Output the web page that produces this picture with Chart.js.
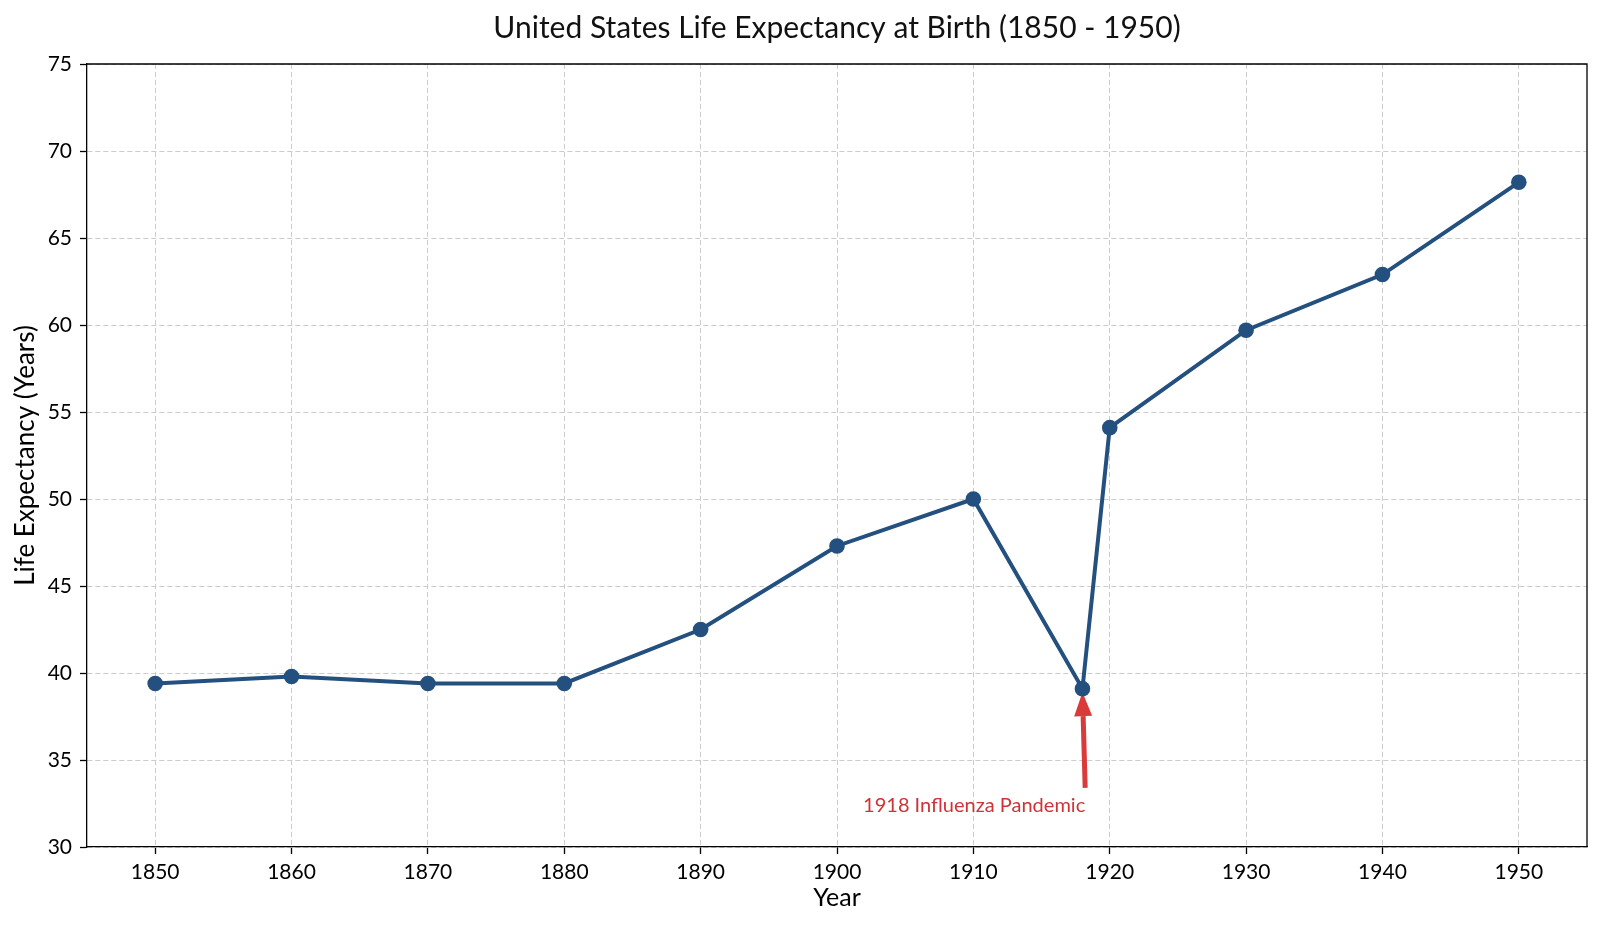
<!DOCTYPE html>
<html>
<head>
<meta charset="utf-8">
<title>United States Life Expectancy at Birth (1850 - 1950)</title>
<script src="https://cdn.jsdelivr.net/npm/chart.js@4.4.1/dist/chart.umd.min.js"></script>
<style>
  html, body { margin: 0; padding: 0; background: #ffffff; }
  #wrap { width: 1600px; height: 925px; }
</style>
</head>
<body>
<div id="wrap"><canvas id="lifeChart"></canvas></div>
<script>
// Data
const years = [1850, 1860, 1870, 1880, 1890, 1900, 1910, 1918, 1920, 1930, 1940, 1950];
const lifeExpectancy = [39.4, 39.8, 39.4, 39.4, 42.5, 47.3, 50.0, 39.1, 54.1, 59.7, 62.9, 68.2];
const xTicks = [1850, 1860, 1870, 1880, 1890, 1900, 1910, 1920, 1930, 1940, 1950];
const yTicks = [30, 35, 40, 45, 50, 55, 60, 65, 70, 75];

// Annotation (data units)
const noteText = "1918 Influenza Pandemic";
const noteTextPos = [1918.2, 32.4];
const noteTail = [1918.2, 33.4];
const noteHead = [1918.0, 38.9];

const FONT = "Lato";
const LINE_BLUE = "#24507f";
const NOTE_RED = "#d93b3b";

// kotak (spines) atas dan kanan
const framePlugin = {
    id: "frame",
    beforeDatasetsDraw(chart) {
        const { ctx, chartArea } = chart;
        ctx.save();
        ctx.strokeStyle = "#000";
        ctx.lineWidth = 1.3;
        ctx.beginPath();
        ctx.moveTo(chartArea.left, chartArea.top);
        ctx.lineTo(chartArea.right, chartArea.top);
        ctx.lineTo(chartArea.right, chartArea.bottom);
        ctx.stroke();
        ctx.restore();
    },
};

// panah + teks anotasi
const notePlugin = {
    id: "note",
    beforeDatasetsDraw(chart) {
        const { ctx } = chart;
        const x = chart.scales.x;
        const y = chart.scales.y;
        const tx = x.getPixelForValue(noteTail[0]);
        const ty = y.getPixelForValue(noteTail[1]);
        const hx = x.getPixelForValue(noteHead[0]);
        const hy = y.getPixelForValue(noteHead[1]);
        const ang = Math.atan2(hy - ty, hx - tx);
        const headLen = 24;
        const headHalf = 9;
        const bx = hx - Math.cos(ang) * headLen;
        const by = hy - Math.sin(ang) * headLen;

        ctx.save();
        ctx.strokeStyle = NOTE_RED;
        ctx.fillStyle = NOTE_RED;
        ctx.lineWidth = 5;
        ctx.beginPath();
        ctx.moveTo(tx, ty);
        ctx.lineTo(bx, by);
        ctx.stroke();
        ctx.beginPath();
        ctx.moveTo(hx, hy);
        ctx.lineTo(bx + Math.sin(ang) * headHalf, by - Math.cos(ang) * headHalf);
        ctx.lineTo(bx - Math.sin(ang) * headHalf, by + Math.cos(ang) * headHalf);
        ctx.closePath();
        ctx.fill();
        ctx.restore();
    },
    afterDatasetsDraw(chart) {
        const { ctx } = chart;
        const px = chart.scales.x.getPixelForValue(noteTextPos[0]);
        const py = chart.scales.y.getPixelForValue(noteTextPos[1]);
        ctx.save();
        ctx.fillStyle = "#cf3338";
        ctx.font = "20px " + FONT;
        ctx.textAlign = "right";
        ctx.textBaseline = "middle";
        ctx.fillText(noteText, px, py);
        ctx.restore();
    },
};

const lifeChart = new Chart(document.getElementById("lifeChart"), {
    type: "line",
    data: {
        datasets: [
            {
                label: "Life Expectancy",
                data: years.map((yr, i) => ({ x: yr, y: lifeExpectancy[i] })),
                borderColor: LINE_BLUE,
                backgroundColor: LINE_BLUE,
                borderWidth: 4,
                pointRadius: 7.8,
                pointBorderWidth: 0,
                pointBackgroundColor: LINE_BLUE,
                tension: 0,
            },
        ],
    },
    options: {
        responsive: true,
        maintainAspectRatio: false,
        animation: false,
        events: [],
        layout: { padding: { left: 0, right: 13, top: 0, bottom: 0 } },
        plugins: {
            legend: { display: false },
            tooltip: { enabled: false },
            title: {
                display: true,
                fullSize: false,
                text: "United States Life Expectancy at Birth (1850 - 1950)",
                color: "#111",
                font: { family: FONT, size: 30, weight: "normal" },
                padding: { top: 10, bottom: 18 },
            },
        },
        scales: {
            x: {
                type: "linear",
                min: 1845,
                max: 1955,
                afterBuildTicks: (scale) => { scale.ticks = xTicks.map((v) => ({ value: v })); },
                afterFit: (scale) => { scale.height = 78; },
                ticks: {
                    color: "#000",
                    font: { family: FONT, size: 21 },
                    padding: 6,
                    maxRotation: 0,
                    autoSkip: false,
                    callback: (v) => String(v),
                },
                grid: { color: "#cccccc", lineWidth: 1, tickColor: "#000", tickWidth: 1.3, tickLength: 7 },
                border: { color: "#000", width: 1.3, dash: [5, 3] },
                title: {
                    display: true,
                    text: "Year",
                    color: "#000",
                    font: { family: FONT, size: 25 },
                    padding: { top: 0, bottom: 12 },
                },
            },
            y: {
                min: 30,
                max: 75,
                afterBuildTicks: (scale) => { scale.ticks = yTicks.map((v) => ({ value: v })); },
                afterFit: (scale) => { scale.width = 87; },
                ticks: {
                    color: "#000",
                    font: { family: FONT, size: 21 },
                    padding: 8,
                    callback: (v) => String(v),
                },
                grid: { color: "#cccccc", lineWidth: 1, tickColor: "#000", tickWidth: 1.3, tickLength: 7 },
                border: { color: "#000", width: 1.3, dash: [5, 3] },
                title: {
                    display: true,
                    text: "Life Expectancy (Years)",
                    color: "#000",
                    font: { family: FONT, size: 26 },
                    padding: { top: 10.4, bottom: 0 },
                },
            },
        },
    },
    plugins: [framePlugin, notePlugin],
});
</script>
</body>
</html>
